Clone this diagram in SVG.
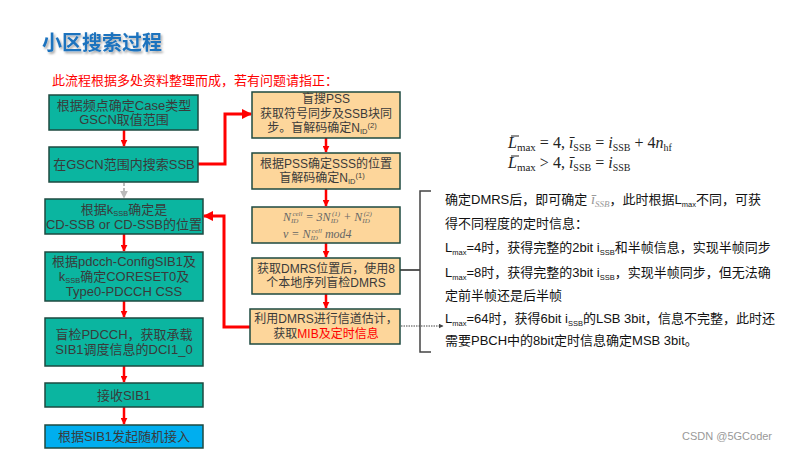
<svg xmlns="http://www.w3.org/2000/svg" width="800" height="450" viewBox="0 0 800 450">
<defs>
<style>
text{font-family:"Liberation Sans","Noto Sans CJK SC",sans-serif;}
.teal{fill:#0BB5A0;stroke:#1E4A40;stroke-width:1.5;}
.org{fill:#FDD69B;stroke:#1E4A40;stroke-width:1.5;}
.blue{fill:#00AEEF;stroke:#1E4A40;stroke-width:1.5;}
.bt{font-size:13px;fill:#3A3A3A;text-anchor:middle;}
.ot{font-size:12px;fill:#3A3A3A;text-anchor:middle;}
.sub{font-size:7.5px;}
.fm, #formula text{font-family:"Liberation Serif","DejaVu Serif",serif;font-style:italic;}
.rt{font-size:13px;fill:#111;}
.red{stroke:#FF0000;fill:none;}
</style>
<marker id="ar" viewBox="0 0 10 10" refX="9" refY="5" markerWidth="3.5" markerHeight="3.5" orient="auto" markerUnits="strokeWidth"><path d="M0,0 L10,5 L0,10 z" fill="#FF0000"/></marker>
<marker id="ar2" viewBox="0 0 10 10" refX="9" refY="5" markerWidth="2.8" markerHeight="2.8" orient="auto" markerUnits="strokeWidth"><path d="M0,0 L10,5 L0,10 z" fill="#FF0000"/></marker>
<marker id="ag" viewBox="0 0 10 10" refX="9" refY="5" markerWidth="4" markerHeight="4" orient="auto" markerUnits="strokeWidth"><path d="M0,0 L10,5 L0,10 z" fill="#BBBBBB"/></marker>
<marker id="ak" viewBox="0 0 10 10" refX="9" refY="5" markerWidth="5" markerHeight="5" orient="auto" markerUnits="strokeWidth"><path d="M0,0 L10,5 L0,10 z" fill="#444"/></marker>
<filter id="sh" x="-5%" y="-20%" width="115%" height="160%"><feDropShadow dx="1.5" dy="2" stdDeviation="1" flood-color="#000" flood-opacity="0.35"/></filter>
</defs>
<rect width="800" height="450" fill="#FFFFFF"/>
<g id="title">
<text x="42" y="50" font-size="20" font-weight="bold" fill="#1E73BE" filter="url(#sh)">小区搜索过程</text>
<text x="52" y="85" font-size="13" fill="#FF0000">此流程根据多处资料整理而成，若有问题请指正：</text>
</g>
<g id="connectors">
<line class="red" x1="124" y1="130" x2="124" y2="146" stroke-width="2.5" marker-end="url(#ar2)"/>
<line x1="124" y1="183" x2="124" y2="198" stroke="#BBBBBB" stroke-width="2" stroke-dasharray="3,2" marker-end="url(#ag)"/>
<line class="red" x1="124" y1="234" x2="124" y2="251" stroke-width="2.5" marker-end="url(#ar2)"/>
<line class="red" x1="124" y1="301" x2="124" y2="317" stroke-width="2.5" marker-end="url(#ar2)"/>
<line class="red" x1="124" y1="366" x2="124" y2="382" stroke-width="2.5" marker-end="url(#ar2)"/>
<line class="red" x1="124" y1="407" x2="124" y2="424" stroke-width="2.5" marker-end="url(#ar2)"/>
<polyline class="red" points="198,164 225,164 225,114 251,114" stroke-width="3" marker-end="url(#ar)"/>
<polyline class="red" points="250,327 224,327 224,216 204,216" stroke-width="3" marker-end="url(#ar)"/>
<line class="red" x1="326" y1="138" x2="326" y2="152" stroke-width="2.5" marker-end="url(#ar2)"/>
<line class="red" x1="326" y1="189" x2="326" y2="206" stroke-width="2.5" marker-end="url(#ar2)"/>
<line class="red" x1="326" y1="243" x2="326" y2="257" stroke-width="2.5" marker-end="url(#ar2)"/>
<line class="red" x1="326" y1="294" x2="326" y2="308" stroke-width="2.5" marker-end="url(#ar2)"/>
<line x1="400" y1="270" x2="420" y2="270" stroke="#222" stroke-width="1.5"/>
<line x1="401" y1="326" x2="443" y2="326" stroke="#444" stroke-width="1" stroke-dasharray="1.5,1" marker-end="url(#ak)"/>
<polyline points="431,191 420,191 420,352 431,352" fill="none" stroke="#444" stroke-width="1.5"/>
</g>
<g id="n1"><rect class="teal" x="49" y="95" width="149" height="35"/>
<text class="bt" x="124" y="110">根据频点确定Case类型</text><text class="bt" x="124" y="124">GSCN取值范围</text></g>
<g id="n2"><rect class="teal" x="49" y="147" width="149" height="35"/>
<text class="bt" x="124" y="169">在GSCN范围内搜索SSB</text></g>
<g id="n3"><rect class="teal" x="45" y="199" width="158" height="35"/>
<text class="bt" x="124" y="214">根据k<tspan class="sub" dy="2">SSB</tspan><tspan dy="-2">确定是</tspan></text>
<text class="bt" x="124" y="229">CD-SSB or CD-SSB的位置</text></g>
<g id="n4"><rect class="teal" x="45" y="252" width="158" height="49"/>
<text class="bt" x="124" y="266">根据pdcch-ConfigSIB1及</text>
<text class="bt" x="124" y="281">k<tspan class="sub" dy="2">SSB</tspan><tspan dy="-2">确定CORESET0及</tspan></text>
<text class="bt" x="124" y="296">Type0-PDCCH CSS</text></g>
<g id="n5"><rect class="teal" x="45" y="318" width="158" height="48"/>
<text class="bt" x="124" y="339">盲检PDCCH，获取承载</text>
<text class="bt" x="124" y="354">SIB1调度信息的DCI1_0</text></g>
<g id="n6"><rect class="teal" x="45" y="383" width="158" height="24"/>
<text class="bt" x="124" y="400">接收SIB1</text></g>
<g id="n7"><rect class="blue" x="45" y="425" width="158" height="23"/>
<text class="bt" x="124" y="441">根据SIB1发起随机接入</text></g>
<g id="nA"><rect class="org" x="252" y="92" width="148" height="46"/>
<text class="ot" x="326" y="103">盲搜PSS</text>
<text class="ot" x="326" y="118">获取符号同步及SSB块同</text>
<text class="ot" x="322" y="132">步。盲解码确定N<tspan class="sub" dy="2">ID</tspan><tspan class="sub" dy="-6">(2)</tspan></text></g>
<g id="nB"><rect class="org" x="252" y="153" width="148" height="36"/>
<text class="ot" x="326" y="168">根据PSS确定SSS的位置</text>
<text class="ot" x="322" y="182">盲解码确定N<tspan class="sub" dy="2">ID</tspan><tspan class="sub" dy="-6">(1)</tspan></text></g>
<g id="nC"><rect class="org" x="252" y="207" width="148" height="36"/>
<text class="fm" x="283" y="221" font-size="12" fill="#666">N<tspan font-size="7" dy="2">ID</tspan><tspan font-size="7" dx="-6" dy="-7">cell</tspan><tspan dy="5"> = 3N</tspan><tspan font-size="7" dy="2">ID</tspan><tspan font-size="7" dx="-6" dy="-7">(1)</tspan><tspan dy="5"> + N</tspan><tspan font-size="7" dy="2">ID</tspan><tspan font-size="7" dx="-6" dy="-7">(2)</tspan></text>
<text class="fm" x="283" y="238" font-size="12" fill="#666">v = N<tspan font-size="7" dy="2">ID</tspan><tspan font-size="7" dx="-6" dy="-7">cell</tspan><tspan dy="5"> mod4</tspan></text></g>
<g id="nD"><rect class="org" x="252" y="258" width="148" height="36"/>
<text class="ot" x="326" y="273">获取DMRS位置后，使用8</text>
<text class="ot" x="326" y="287">个本地序列盲检DMRS</text></g>
<g id="nE"><rect class="org" x="250" y="309" width="150" height="35"/>
<text class="ot" x="326" y="323">利用DMRS进行信道估计，</text>
<text class="ot" x="326" y="338">获取<tspan fill="#FF0000">MIB及定时信息</tspan></text></g>
<g id="formula" font-size="16" fill="#222">
<text x="508" y="148">L<tspan font-style="normal" font-size="11" dy="3">max</tspan><tspan font-style="normal" dy="-3"> = 4,  </tspan>ī<tspan font-style="normal" font-size="10" dy="3">SSB</tspan><tspan font-style="normal" dy="-3"> = </tspan>i<tspan font-style="normal" font-size="10" dy="3">SSB</tspan><tspan font-style="normal" dy="-3"> + 4</tspan>n<tspan font-style="normal" font-size="10" dy="3">hf</tspan></text>
<text x="508" y="168">L<tspan font-style="normal" font-size="11" dy="3">max</tspan><tspan font-style="normal" dy="-3"> &gt; 4,  </tspan>ī<tspan font-style="normal" font-size="10" dy="3">SSB</tspan><tspan font-style="normal" dy="-3"> = </tspan>i<tspan font-style="normal" font-size="10" dy="3">SSB</tspan></text>
<line x1="511" y1="136" x2="519" y2="136" stroke="#222" stroke-width="1"/>
<line x1="511" y1="156" x2="519" y2="156" stroke="#222" stroke-width="1"/>
</g>
<g id="notes" class="rt">
<text x="445" y="204">确定DMRS后，即可确定 <tspan class="fm" fill="#999" font-size="15">ī</tspan><tspan class="fm" fill="#999" font-size="9" dy="3">SSB</tspan><tspan dy="-3">，此时根据L</tspan><tspan class="sub" dy="3">max</tspan><tspan dy="-3">不同，可获</tspan></text>
<text x="445" y="228">得不同程度的定时信息：</text>
<text x="445" y="252">L<tspan class="sub" dy="3">max</tspan><tspan dy="-3">=4时，获得完整的2bit i</tspan><tspan class="sub" dy="3">SSB</tspan><tspan dy="-3">和半帧信息，实现半帧同步</tspan></text>
<text x="445" y="277">L<tspan class="sub" dy="3">max</tspan><tspan dy="-3">=8时，获得完整的3bit i</tspan><tspan class="sub" dy="3">SSB</tspan><tspan dy="-3">，实现半帧同步，但无法确</tspan></text>
<text x="445" y="300">定前半帧还是后半帧</text>
<text x="445" y="323">L<tspan class="sub" dy="3">max</tspan><tspan dy="-3">=64时，获得6bit i</tspan><tspan class="sub" dy="3">SSB</tspan><tspan dy="-3">的LSB 3bit，信息不完整，此时还</tspan></text>
<text x="445" y="345">需要PBCH中的8bit定时信息确定MSB 3bit。</text>
</g>
<text x="682" y="440" font-size="11" fill="#999">CSDN @5GCoder</text>
</svg>
